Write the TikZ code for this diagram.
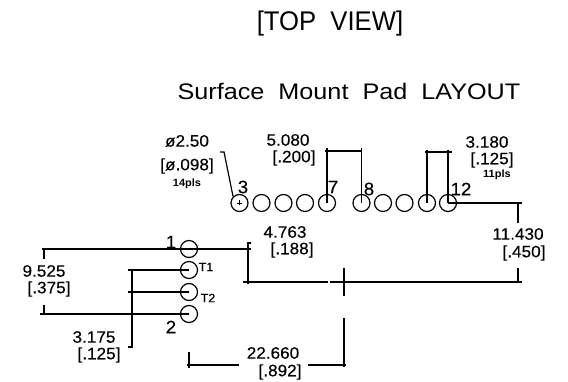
\documentclass[tikz,border=0pt]{standalone}
\usepackage{fontspec}
\setmainfont{Liberation Sans}[FakeStretch=1.04,FakeBold=0.25]
\newfontfamily\smallbold{Liberation Sans}[FakeStretch=1.05]
\newfontfamily\topfont{Liberation Sans}[FakeStretch=0.95]
\newfontfamily\subfont{Liberation Sans}[FakeStretch=1.12]
\tikzset{
  pad/.style={circle,draw,line width=1.2pt,minimum size=17pt,inner sep=0pt},
  dim/.style={inner sep=0pt,font=\fontsize{16.5}{16.5}\selectfont},
  pin/.style={inner sep=0pt,font=\fontsize{18}{18}\selectfont},
  tiny/.style={inner sep=0pt,font=\smallbold\bfseries\fontsize{10.5}{10.5}\selectfont},
  tee/.style={inner sep=0pt,font=\fontsize{12}{12}\selectfont},
  titlea/.style={inner sep=0pt,font=\topfont\fontsize{27}{27}\selectfont},
  titleb/.style={inner sep=0pt,font=\subfont\fontsize{22.5}{22.5}\selectfont},
  wire/.style={line width=1.2pt,line cap=butt}
}
\begin{document}
\begin{tikzpicture}[x=1pt,y=-1pt]
\useasboundingbox (0,0) rectangle (568,382);
% titles
\node[titlea] (t1) at (330,24) {[TOP\ \ VIEW]};
\node[titleb] (t2) at (349,91) {Surface\ \ Mount\ \ Pad\ \ LAYOUT};
% pads
\foreach \n/\x in {3/239.5,4/261.5,5/283.5,6/305,7/327,8/361.5,9/383,10/404.5,11/427,12/448}
  \node[pad] (p\n) at (\x,203) {};
\node[pad] (p1) at (189,249) {};
\node[pad] (pT1) at (189,270) {};
\node[pad] (pT2) at (189,292) {};
\node[pad] (p2) at (189,314) {};
% free ends
\coordinate (a1) at (220,152); \coordinate (a2) at (224,152);
% pad 3 plus
\draw[line width=.9pt] ([xshift=-2.5pt]p3.center) -- ([xshift=2.5pt]p3.center)
  ([yshift=-2.5pt]p3.center) -- ([yshift=2.5pt]p3.center);
% leader
\draw[wire] (a1) -- (a2) -- (p3.north west);
% 5.080
\draw[wire] (p7.center) -- (327,148) (325,151) -- (362,151);
\draw[wire] (p8.center) -- (361.5,148);
% 3.180
\draw[wire] (p11.center) -- (427,150) (425,152) -- (452,152);
\draw[wire] (p12.center) -- (448,150);
% 11.430
\draw[wire] (p12.center) -- (522,203);
\draw[wire] (518,203) -- (518,223) (518,268) -- (518,282);
\draw[wire] (243,282) -- (328,282) (330,282) -- (522,282);
% centre cross
\draw[wire] (344,268) -- (344,296) (344,318) -- (344,367);
% 4.763
\draw[wire] (p1.center) -- (251,249);
\draw[wire] (251,243) -- (248,243) -- (248,284);
% 9.525
\draw[wire] (p1.center) -- (42,249);
\draw[wire] (p2.center) -- (40,314);
\draw[wire] (44,249) -- (44,259) (44,305) -- (44,314);
% 3.175
\draw[wire] (pT1.center) -- (128,270);
\draw[wire] (pT2.center) -- (128,292);
\draw[wire] (132,270) -- (132,347) -- (128,347);
% 22.660
\draw[wire] (189,352) -- (189,368) (187,365) -- (239,365) (308,365) -- (346,365);
% labels
\node[dim] (l1) at (187,141) {ø2.50};
\node[dim] (l2) at (187,166) {[ø.098]};
\node[tiny] (l3) at (187,184) {14pls};
\node[dim] (l4) at (288,140) {5.080};
\node[dim] (l5) at (294,158) {[.200]};
\node[dim] (l6) at (487,142) {3.180};
\node[dim] (l7) at (492,160) {[.125]};
\node[tiny] (l8) at (497,175) {11pls};
\node[dim] (l9) at (518,234) {11.430};
\node[dim] (l10) at (524,253) {[.450]};
\node[dim] (l11) at (285,232) {4.763};
\node[dim] (l12) at (292,250) {[.188]};
\node[dim] (l13) at (44,271) {9.525};
\node[dim] (l14) at (49,289) {[.375]};
\node[dim] (l15) at (94,337) {3.175};
\node[dim] (l16) at (99,355) {[.125]};
\node[dim] (l17) at (273,353) {22.660};
\node[dim] (l18) at (280,372) {[.892]};
\node[pin] (n3) at (243,187) {3};
\node[pin] (n7) at (333,187) {7};
\node[pin] (n8) at (369,189) {8};
\node[pin] (n12) at (461,189) {12};
\node[pin] (n1) at (171,242) {1};
\node[pin] (n2) at (171,327) {2};
\node[tee] (nT1) at (206,267) {T1};
\node[tee] (nT2) at (208,298) {T2};
\end{tikzpicture}
\end{document}
